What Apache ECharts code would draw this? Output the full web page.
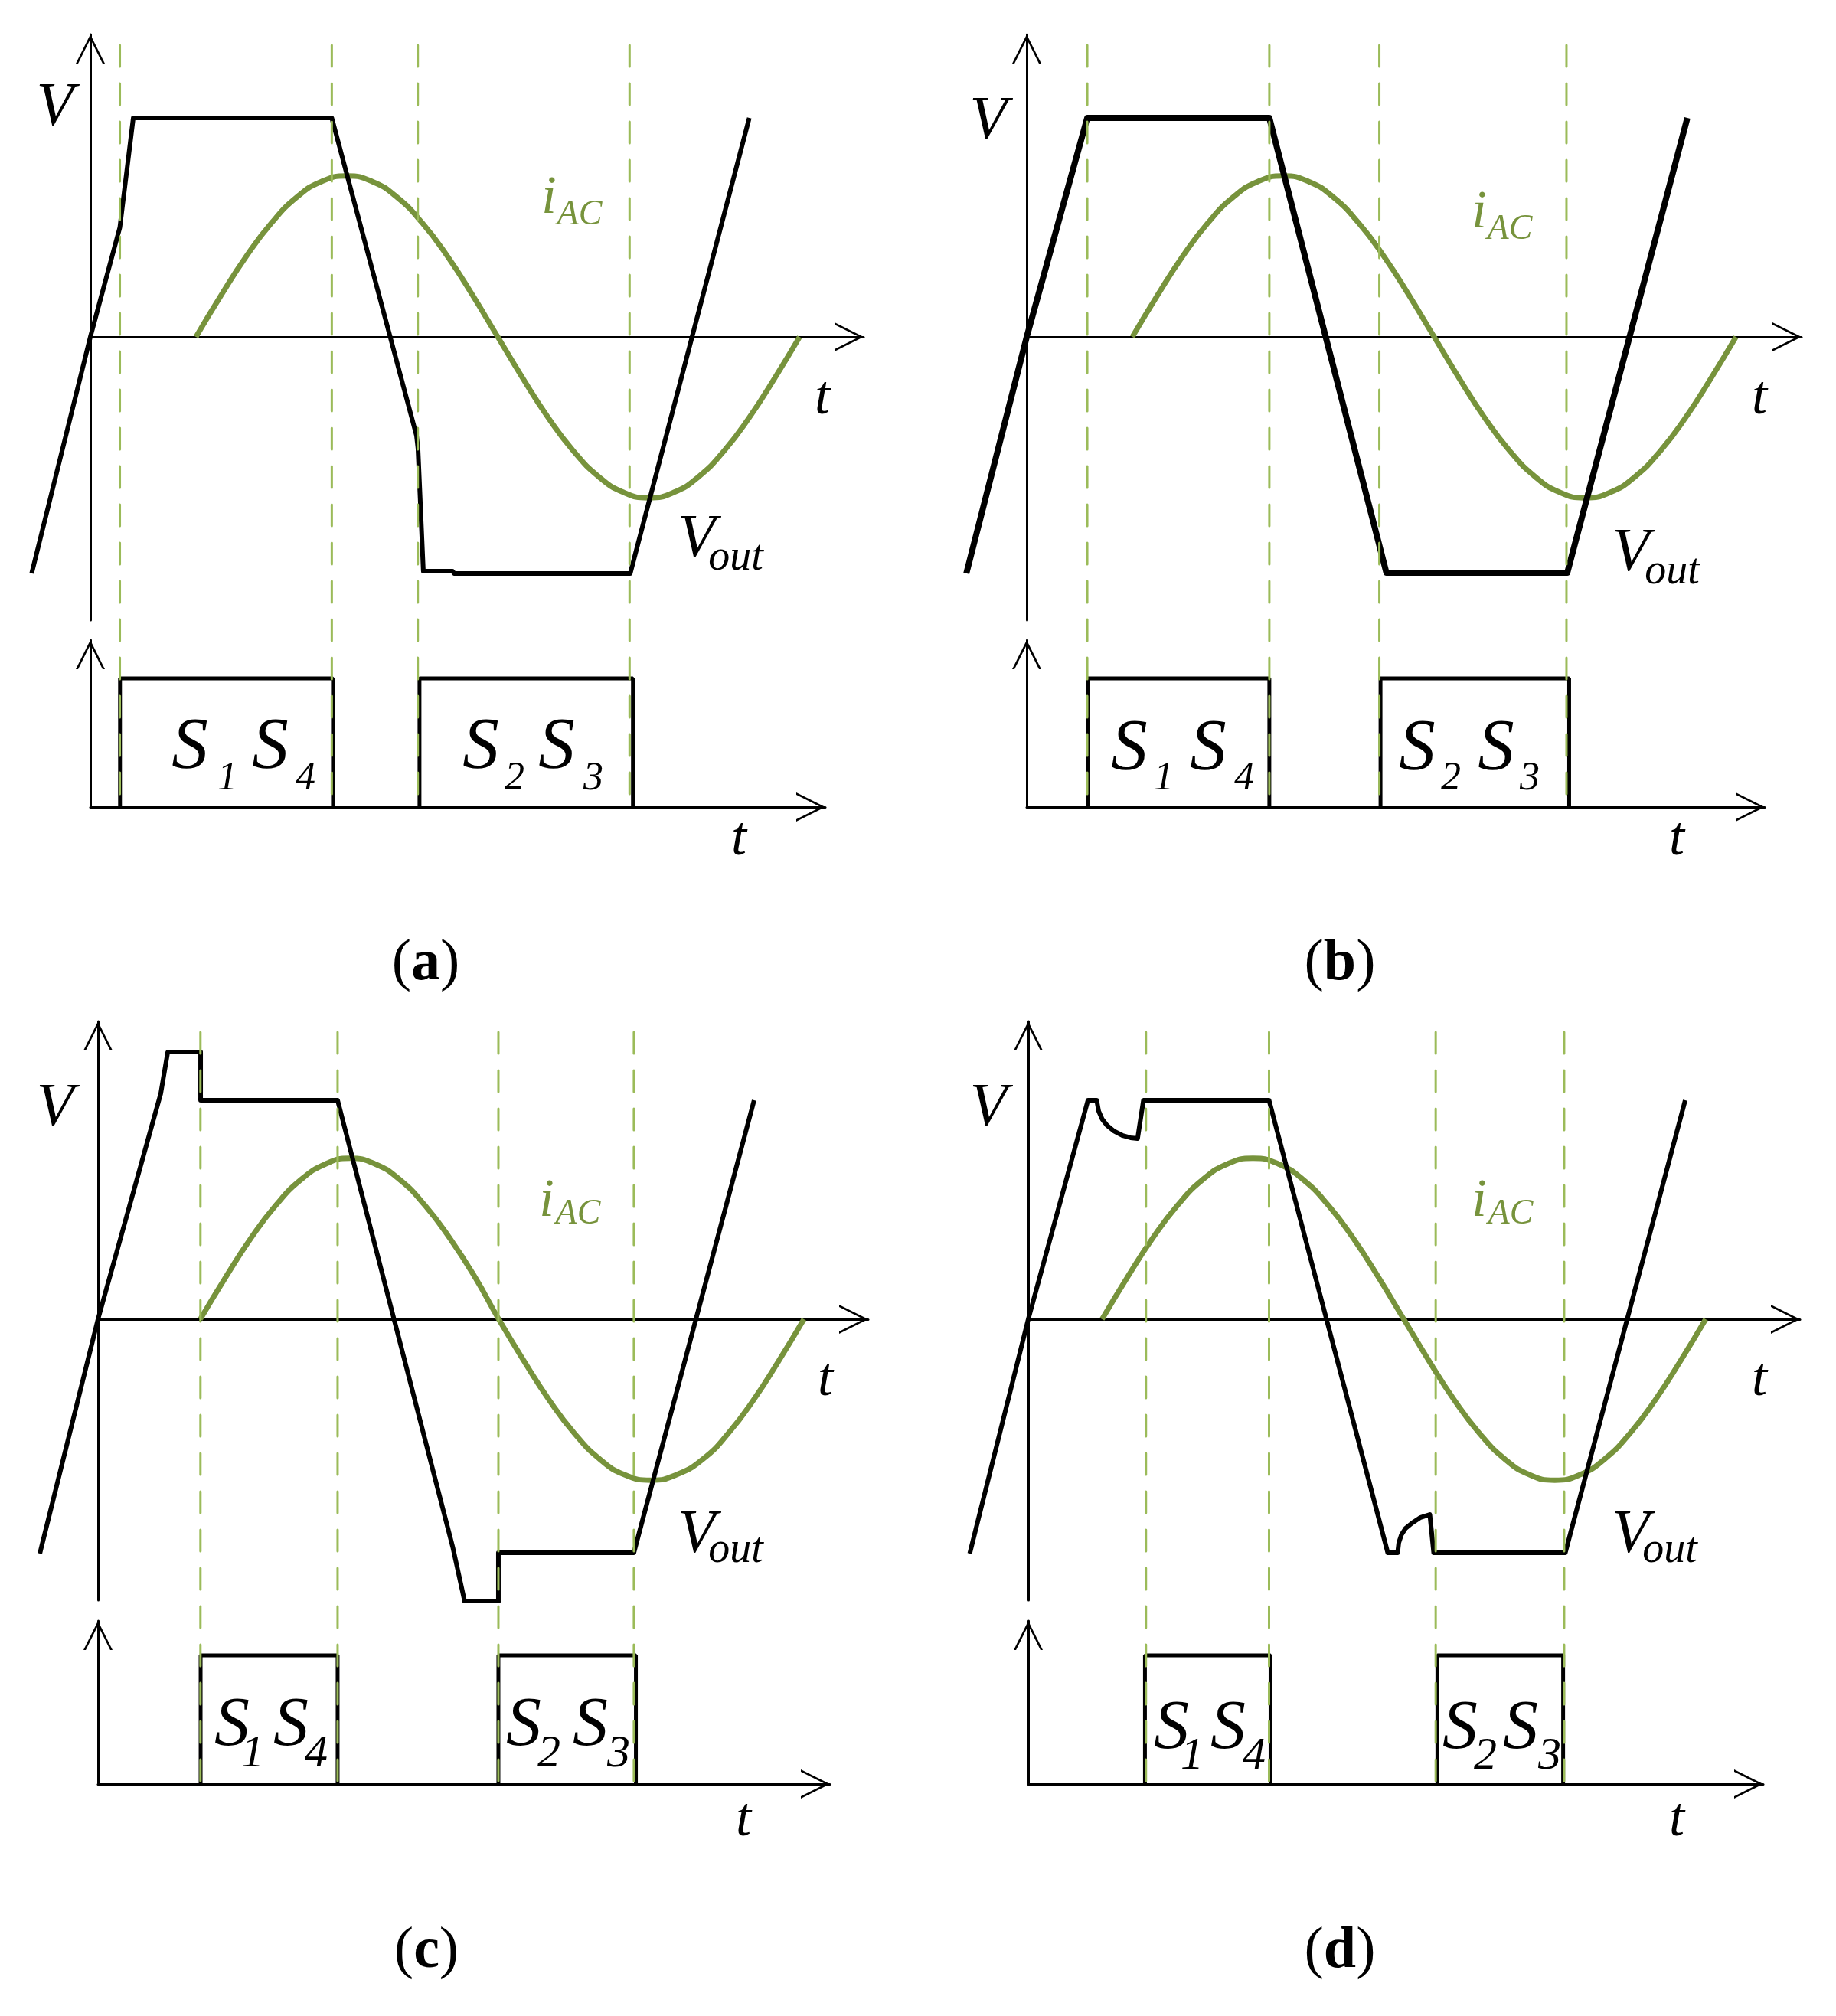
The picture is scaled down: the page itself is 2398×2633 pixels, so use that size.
<!DOCTYPE html>
<html>
<head>
<meta charset="utf-8">
<script src="https://cdn.jsdelivr.net/npm/echarts@6/dist/echarts.min.js"></script>
<style>
  html, body { margin: 0; padding: 0; background: #fff; }
  #chart { width: 2398px; height: 2633px; }
</style>
</head>
<body>
<div id="chart"></div>
<script>
// time axis in electrical degrees, voltage / current in per-unit (Vout flat top = 1)

// Vout waveforms
const voutA = [[-35, -1.08], [0, 0], [17.6, 0.5], [25.6, 1.0], [144, 1.0], [194.5, -0.45], [195.4, -0.51],
  [198.6, -1.07], [216, -1.07], [217, -1.08], [322, -1.08], [393, 1.0]];
const voutB = [[-36, -1.08], [0, 0], [36.1, 1.0], [144.7, 1.0], [214.5, -1.077], [322.4, -1.077], [394, 1.0]];
const voutC = [[-34.7, -1.07], [0, 0], [37.4, 1.03], [41.6, 1.22], [61.2, 1.22], [61.2, 1.0], [142.9, 1.0],
  [211.7, -1.045], [218.7, -1.29], [238.8, -1.29], [238.8, -1.066], [319.6, -1.066], [391.3, 1.0]];
const voutD = [[-34.9, -1.07], [0, 0], [35.6, 1.0], [40.8, 1.0], [42, 0.95], [44, 0.915], [47, 0.885],
  [51, 0.86], [56, 0.84], [61, 0.829], [65.2, 0.825], [68.7, 1.0], [143.6, 1.0], [214.4, -1.066],
  [220.3, -1.066], [221, -1.02], [222.5, -0.985], [225, -0.955], [229, -0.93], [234, -0.905],
  [239.5, -0.892], [241.8, -1.066], [320.3, -1.066], [391.8, 1.0]];

// iAC waveforms
const iacA = [[63, 0], [78, 0.19], [93, 0.368], [108, 0.52], [123, 0.637], [138, 0.71], [153, 0.735],
  [168, 0.71], [183, 0.637], [198, 0.52], [213, 0.368], [228, 0.19], [243, 0], [258, -0.19],
  [273, -0.368], [288, -0.52], [303, -0.637], [318, -0.71], [333, -0.735], [348, -0.71],
  [363, -0.637], [378, -0.52], [393, -0.368], [408, -0.19], [423, 0]];
const iacB = [[63, 0], [78, 0.19], [93, 0.368], [108, 0.52], [123, 0.637], [138, 0.71], [153, 0.735],
  [168, 0.71], [183, 0.637], [198, 0.52], [213, 0.368], [228, 0.19], [243, 0], [258, -0.19],
  [273, -0.368], [288, -0.52], [303, -0.637], [318, -0.71], [333, -0.735], [348, -0.71],
  [363, -0.637], [378, -0.52], [393, -0.368], [408, -0.19], [423, 0]];
const iacC = [[61, 0], [76, 0.19], [91, 0.368], [106, 0.52], [121, 0.637], [136, 0.71], [150, 0.735],
  [165, 0.71], [180, 0.637], [195, 0.52], [210, 0.368], [225, 0.19], [239, 0], [254, -0.19],
  [269, -0.368], [284, -0.52], [299, -0.637], [314, -0.71], [330, -0.735], [345, -0.71],
  [361, -0.637], [376, -0.52], [391, -0.368], [406, -0.19], [421, 0]];
const iacD = [[44, 0], [59, 0.19], [74, 0.368], [89, 0.52], [104, 0.637], [119, 0.71], [134, 0.735],
  [149, 0.71], [164, 0.637], [179, 0.52], [194, 0.368], [209, 0.19], [224, 0], [239, -0.19],
  [254, -0.368], [269, -0.52], [284, -0.637], [299, -0.71], [314, -0.735], [329, -0.71],
  [344, -0.637], [359, -0.52], [374, -0.368], [389, -0.19], [404, 0]];

// switching instants (dashed guides)
const dashA = [17.6, 144, 195.3, 321.6];
const dashB = [36.1, 144.7, 210.3, 321.9];
const dashC = [61.1, 142.9, 238.8, 319.6];
const dashD = [70.2, 143.6, 243, 319.6];

// gate pulses [on, off]: S1S4 then S2S3
const pulsesA = [[17.7, 144.7], [196.3, 323.6]];
const pulsesB = [[36.5, 144.7], [211, 323.5]];
const pulsesC = [[61.2, 142.9], [238.8, 320.8]];
const pulsesD = [[69.6, 144.5], [244, 319]];

const captions = ['a', 'b', 'c', 'd'];

const PX_PER_DEG = 2.19;
const PX_PER_PU = 286;
const PULSE_PX = 168;
const LEFT_DEG = 40;   // Vout starts before t = 0
const BLACK = '#000000';
const GREEN = '#77933C';
const DASH_GREEN = '#9BBB59';
const FONT = '"Liberation Serif", "Times New Roman", serif';

const panels = [
  { vout: voutA, iac: iacA, dash: dashA, pulses: pulsesA, voutWidth: 6,
    ox: 118, oy: 440, top: 45, bottom: 810, right: 1128, lowOy: 1054, lowTop: 836, lowRight: 1078,
    cap: [556, 1285],
    labels: [['V', 72, 169, 80, BLACK], ['i', 717, 283, 70, GREEN], ['AC', 757, 297, 46, GREEN],
      ['t', 1074, 546, 72, BLACK], ['V', 910, 733, 80, BLACK], ['out', 961, 748, 56, BLACK],
      ['t', 965, 1122, 72, BLACK],
      ['S', 248, 1010, 95, BLACK], ['1', 297, 1035, 52, BLACK], ['S', 353, 1010, 95, BLACK], ['4', 399, 1035, 52, BLACK],
      ['S', 628, 1010, 95, BLACK], ['2', 672, 1035, 52, BLACK], ['S', 727, 1010, 95, BLACK], ['3', 775, 1035, 52, BLACK]] },
  { vout: voutB, iac: iacB, dash: dashB, pulses: pulsesB, voutWidth: 8,
    ox: 1341, oy: 440, top: 45, bottom: 810, right: 2353, lowOy: 1054, lowTop: 836, lowRight: 2305,
    cap: [1750, 1285],
    labels: [['V', 1291, 187, 80, BLACK], ['i', 1932, 302, 70, GREEN], ['AC', 1972, 316, 46, GREEN],
      ['t', 2298, 546, 72, BLACK], ['V', 2130, 751, 80, BLACK], ['out', 2184, 766, 56, BLACK],
      ['t', 2190, 1122, 72, BLACK],
      ['S', 1475, 1012, 95, BLACK], ['1', 1520, 1035, 52, BLACK], ['S', 1578, 1012, 95, BLACK], ['4', 1625, 1035, 52, BLACK],
      ['S', 1851, 1012, 95, BLACK], ['2', 1895, 1035, 52, BLACK], ['S', 1954, 1012, 95, BLACK], ['3', 1998, 1035, 52, BLACK]] },
  { vout: voutC, iac: iacC, dash: dashC, pulses: pulsesC, voutWidth: 6,
    ox: 128, oy: 1723, top: 1334, bottom: 2090, right: 1134, lowOy: 2330, lowTop: 2117, lowRight: 1084,
    cap: [557, 2575],
    labels: [['V', 72, 1476, 80, BLACK], ['i', 714, 1593, 70, GREEN], ['AC', 755, 1602, 46, GREEN],
      ['t', 1078, 1828, 72, BLACK], ['V', 910, 2033, 80, BLACK], ['out', 961, 2044, 56, BLACK],
      ['t', 971, 2403, 72, BLACK],
      ['S', 303, 2286, 92, BLACK], ['1', 330, 2312, 60, BLACK], ['S', 380, 2286, 92, BLACK], ['4', 413, 2312, 60, BLACK],
      ['S', 684, 2286, 92, BLACK], ['2', 717, 2312, 60, BLACK], ['S', 771, 2286, 92, BLACK], ['3', 808, 2312, 60, BLACK]] },
  { vout: voutD, iac: iacD, dash: dashD, pulses: pulsesD, voutWidth: 6,
    ox: 1343, oy: 1723, top: 1334, bottom: 2090, right: 2351, lowOy: 2330, lowTop: 2117, lowRight: 2303,
    cap: [1750, 2575],
    labels: [['V', 1291, 1476, 80, BLACK], ['i', 1932, 1593, 70, GREEN], ['AC', 1973, 1602, 46, GREEN],
      ['t', 2298, 1828, 72, BLACK], ['V', 2130, 2033, 80, BLACK], ['out', 2181, 2044, 56, BLACK],
      ['t', 2190, 2403, 72, BLACK],
      ['S', 1530, 2290, 92, BLACK], ['1', 1557, 2315, 60, BLACK], ['S', 1604, 2290, 92, BLACK], ['4', 1638, 2315, 60, BLACK],
      ['S', 1907, 2290, 92, BLACK], ['2', 1940, 2315, 60, BLACK], ['S', 1986, 2290, 92, BLACK], ['3', 2024, 2315, 60, BLACK]] }
];

// open chevron used as the axis arrow head
const ARROW = 'path://M50,0 L100,100 L92,100 L50,16 L8,100 L0,100 Z';

function axis(gridIndex, min, max) {
  return {
    type: 'value', gridIndex: gridIndex, min: min, max: max,
    axisLine: { show: true, onZero: true, symbol: ['none', ARROW], symbolSize: [38, 38], symbolOffset: [0, -19],
      lineStyle: { color: BLACK, width: 3 } },
    axisTick: { show: false }, axisLabel: { show: false }, splitLine: { show: false }
  };
}

function hiddenAxis(gridIndex, min, max) {
  return { type: 'value', gridIndex: gridIndex, min: min, max: max, show: false };
}

function text(s, cx, base, size, color, italic) {
  return {
    type: 'text', x: cx, y: base - 0.34 * size, z: 20, silent: true,
    style: { text: s, font: (italic ? 'italic ' : '') + size + 'px ' + FONT, fill: color,
      align: 'center', verticalAlign: 'middle', textAlign: 'center', textVerticalAlign: 'middle' }
  };
}

const grid = [], xAxis = [], yAxis = [], series = [], graphic = [];

panels.forEach(function (p, i) {
  const w = p.right - p.ox;
  const lw = p.lowRight - p.ox;
  const g = 4 * i;
  const yMin = -(p.bottom - p.oy) / PX_PER_PU;
  const yMax = (p.oy - p.top) / PX_PER_PU;

  // upper plot: axes and iAC
  grid.push({ left: p.ox, top: p.top, width: w, height: p.bottom - p.top, outerBoundsMode: 'none' });
  xAxis.push(axis(g, 0, w / PX_PER_DEG));
  yAxis.push(axis(g, yMin, yMax));

  // lower plot: gate pulses
  grid.push({ left: p.ox, top: p.lowTop, width: lw, height: p.lowOy - p.lowTop, outerBoundsMode: 'none' });
  xAxis.push(axis(g + 1, 0, lw / PX_PER_DEG));
  yAxis.push(axis(g + 1, 0, (p.lowOy - p.lowTop) / PULSE_PX));

  // overlay for the dashed guides running through both plots
  grid.push({ left: p.ox, top: p.top + 14, width: w, height: p.lowOy - p.top - 14, outerBoundsMode: 'none' });
  xAxis.push(hiddenAxis(g + 2, 0, w / PX_PER_DEG));
  yAxis.push(hiddenAxis(g + 2, 0, 1));

  // overlay for Vout, same scale but reaching left of the V axis
  grid.push({ left: p.ox - LEFT_DEG * PX_PER_DEG, top: p.top, width: w + LEFT_DEG * PX_PER_DEG,
    height: p.bottom - p.top, outerBoundsMode: 'none' });
  xAxis.push(hiddenAxis(g + 3, -LEFT_DEG, w / PX_PER_DEG));
  yAxis.push(hiddenAxis(g + 3, yMin, yMax));

  series.push({
    type: 'line', xAxisIndex: g, yAxisIndex: g, data: p.iac, smooth: true, showSymbol: false,
    z: 3, lineStyle: { color: GREEN, width: 7 }
  });
  series.push({
    type: 'line', xAxisIndex: g + 3, yAxisIndex: g + 3, data: p.vout, showSymbol: false,
    z: 4, lineStyle: { color: BLACK, width: p.voutWidth, join: 'round' }
  });

  p.pulses.forEach(function (pl) {
    series.push({
      type: 'line', xAxisIndex: g + 1, yAxisIndex: g + 1, showSymbol: false, z: 4,
      data: [[pl[0], 0], [pl[0], 1], [pl[1], 1], [pl[1], 0]],
      lineStyle: { color: BLACK, width: 5 }
    });
  });

  p.dash.forEach(function (x) {
    series.push({
      type: 'line', xAxisIndex: g + 2, yAxisIndex: g + 2, showSymbol: false, z: 6,
      data: [[x, 1], [x, 0]],
      lineStyle: { color: DASH_GREEN, width: 3, type: [28, 22], cap: 'round' }
    });
  });

  p.labels.forEach(function (l) {
    graphic.push(text(l[0], l[1], l[2], l[3], l[4], true));
  });

  graphic.push({
    type: 'text', x: p.cap[0], y: p.cap[1] - 0.34 * 76, z: 20, silent: true,
    style: {
      text: '{n|(}{b|' + captions[i] + '}{n|)}', fill: BLACK,
      align: 'center', verticalAlign: 'middle', textAlign: 'center', textVerticalAlign: 'middle',
      rich: {
        n: { font: '76px ' + FONT, fill: BLACK },
        b: { font: 'bold 76px ' + FONT, fill: BLACK }
      }
    }
  });
});

const chart = echarts.init(document.getElementById('chart'));
chart.setOption({
  animation: false,
  backgroundColor: '#ffffff',
  grid: grid,
  xAxis: xAxis,
  yAxis: yAxis,
  series: series,
  graphic: graphic
});
</script>
</body>
</html>
